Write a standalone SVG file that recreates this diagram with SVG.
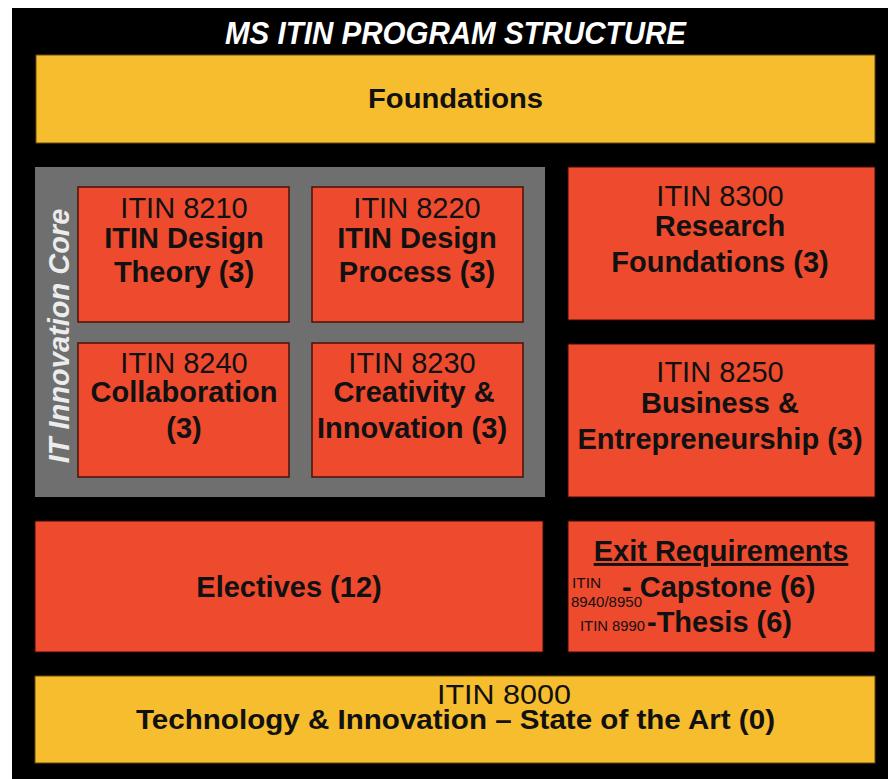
<svg xmlns="http://www.w3.org/2000/svg" width="888" height="779" viewBox="0 0 888 779">
<style>
.red{fill:#ee4a2e;stroke:#4a1208;stroke-width:1.5}
.redr{fill:#ee4a2e;stroke:#3a0d06;stroke-width:1}
.yel{fill:#f6bd2e;stroke:#6a4a08;stroke-width:1}
.t{font-family:"Liberation Sans",Arial,sans-serif;fill:#111;text-anchor:middle}
.r{font-size:29px}
.b{font-size:29px;font-weight:bold}
.n{font-family:"Liberation Sans Narrow","Liberation Sans",Arial,sans-serif;fill:#111}
.s{font-family:"Liberation Sans",Arial,sans-serif;font-size:15px;fill:#111}
</style>
<rect x="0" y="0" width="888" height="779" fill="#ffffff"/>
<rect x="12" y="8" width="876" height="771" fill="#000000"/>
<g id="title">
<text class="n" x="225" y="44" font-size="32" font-weight="bold" font-style="italic" style="fill:#fff" textLength="461" lengthAdjust="spacingAndGlyphs">MS ITIN PROGRAM STRUCTURE</text>
</g>
<g id="foundations">
<rect class="yel" x="36" y="55" width="839" height="88"/>
<text class="n" x="368" y="108" font-size="28" font-weight="bold" textLength="175" lengthAdjust="spacingAndGlyphs">Foundations</text>
</g>
<g id="core">
<rect x="35" y="167" width="510" height="330" fill="#6f6f6f"/>
<text class="t" transform="translate(69,336) rotate(-90)" x="0" y="0" font-size="29" font-weight="bold" font-style="italic" style="fill:#ececec">IT Innovation Core</text>
</g>
<g id="itin8210">
<rect class="red" x="78" y="187" width="211" height="135"/>
<text class="t r" x="184" y="218">ITIN 8210</text>
<text class="t b" x="184" y="248">ITIN Design</text>
<text class="t b" x="184" y="282">Theory (3)</text>
</g>
<g id="itin8220">
<rect class="red" x="312" y="187" width="211" height="135"/>
<text class="t r" x="417" y="218">ITIN 8220</text>
<text class="t b" x="417" y="248">ITIN Design</text>
<text class="t b" x="417" y="282">Process (3)</text>
</g>
<g id="itin8240">
<rect class="red" x="78" y="343" width="211" height="134"/>
<text class="t r" x="184" y="373">ITIN 8240</text>
<text class="t b" x="184" y="402">Collaboration</text>
<text class="t b" x="184" y="438">(3)</text>
</g>
<g id="itin8230">
<rect class="red" x="312" y="343" width="211" height="134"/>
<text class="t r" x="412" y="373">ITIN 8230</text>
<text class="t b" x="414" y="402">Creativity &amp;</text>
<text class="t b" x="412" y="438">Innovation (3)</text>
</g>
<g id="itin8300">
<rect class="redr" x="568" y="167" width="307" height="153"/>
<text class="t r" x="720" y="206">ITIN 8300</text>
<text class="t b" x="720" y="236">Research</text>
<text class="t b" x="720" y="272">Foundations (3)</text>
</g>
<g id="itin8250">
<rect class="redr" x="568" y="344" width="307" height="153"/>
<text class="t r" x="720" y="382">ITIN 8250</text>
<text class="t b" x="720" y="413">Business &amp;</text>
<text class="t b" x="720" y="449">Entrepreneurship (3)</text>
</g>
<g id="electives">
<rect class="redr" x="35" y="521" width="508" height="131"/>
<text class="t b" x="289" y="597">Electives (12)</text>
</g>
<g id="exit">
<rect class="redr" x="568" y="521" width="307" height="131"/>
<text class="t b" x="721" y="561" text-decoration="underline">Exit Requirements</text>
<text class="s" x="572" y="588" textLength="29" lengthAdjust="spacingAndGlyphs">ITIN</text>
<text class="s" x="571" y="607" textLength="71" lengthAdjust="spacingAndGlyphs">8940/8950</text>
<text class="s" x="580" y="631" textLength="65" lengthAdjust="spacingAndGlyphs">ITIN 8990</text>
<text class="t b" x="622" y="597" style="text-anchor:start">- Capstone (6)</text>
<text class="t b" x="647" y="632" style="text-anchor:start">-Thesis (6)</text>
</g>
<g id="itin8000">
<rect class="yel" x="35" y="676" width="840" height="87"/>
<text class="n" x="437" y="704" font-size="27" textLength="134" lengthAdjust="spacingAndGlyphs">ITIN 8000</text>
<text class="n" x="136" y="729" font-size="27" font-weight="bold" textLength="639" lengthAdjust="spacingAndGlyphs">Technology &amp; Innovation – State of the Art (0)</text>
</g>
<g id="connectors"></g>
</svg>
